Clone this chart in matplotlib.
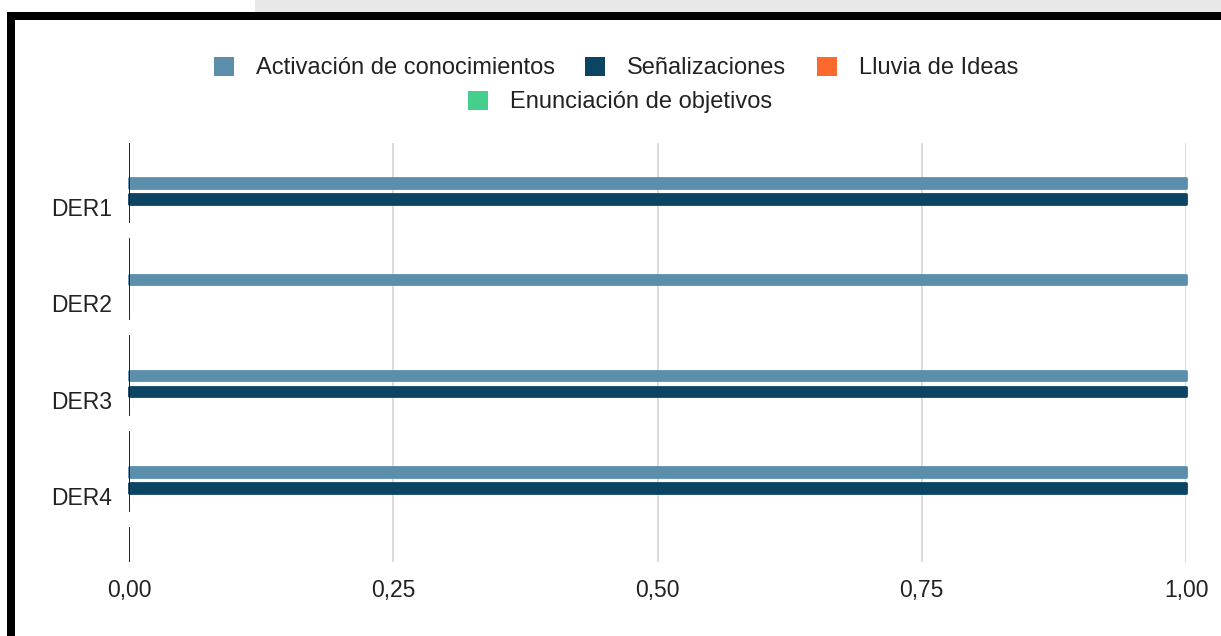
import matplotlib
matplotlib.use("Agg")
import matplotlib.pyplot as plt
from matplotlib.patches import Rectangle, Patch

plt.rcParams['font.family'] = ['Liberation Sans', 'DejaVu Sans']

categories = ["DER1", "DER2", "DER3", "DER4"]
series_names = ["Activación de conocimientos", "Señalizaciones", "Lluvia de Ideas", "Enunciación de objetivos"]
series_values = {
    "Activación de conocimientos": [1.0, 1.0, 1.0, 1.0],
    "Señalizaciones": [1.0, 0.0, 1.0, 1.0],
    "Lluvia de Ideas": [0.0, 0.0, 0.0, 0.0],
    "Enunciación de objetivos": [0.0, 0.0, 0.0, 0.0],
}
series_colors = ["#5a8eab", "#0c4563", "#fb6a2c", "#44cf8c"]
x_ticks = [0.0, 0.25, 0.5, 0.75, 1.0]
x_tick_labels = ["0,00", "0,25", "0,50", "0,75", "1,00"]

W, H = 1221, 636
fig = plt.figure(figsize=(W / 100, H / 100), dpi=100)
fig.patch.set_facecolor("white")

# top grey strip and black frame (screenshot border)
fig.patches.append(Rectangle((255 / W, 1 - 12 / H), 1, 12 / H, transform=fig.transFigure,
                             facecolor="#e8e8e8", edgecolor="none", zorder=0))
fig.patches.append(Rectangle((7 / W, 1 - 20 / H), 1, 8 / H, transform=fig.transFigure,
                             facecolor="black", edgecolor="none", zorder=5))
fig.patches.append(Rectangle((7 / W, 0), 8 / W, 1 - 12 / H, transform=fig.transFigure,
                             facecolor="black", edgecolor="none", zorder=5))

left, right = 129 / W, 1186 / W
bottom, top = 1 - 562 / H, 1 - 143 / H
ax = fig.add_axes([left, bottom, right - left, top - bottom])
ax.set_facecolor("none")

n_series = len(series_names)
step = 0.166
bar_h = 0.10
for s, name in enumerate(series_names):
    off = (s - (n_series - 1) / 2) * step
    ys = [i + off for i in range(len(categories))]
    vals = series_values[name]
    bars = ax.barh(ys, vals, height=bar_h, color=series_colors[s], zorder=3, clip_on=False)
    for b, v in zip(bars, vals):
        if v > 0:
            b.set_edgecolor(series_colors[s])
            b.set_linewidth(2)
            b.set_joinstyle("round")

# gridlines
for t in x_ticks[1:]:
    ax.axvline(t, color="#d6d6d6", lw=1.2, zorder=1)

# segmented baseline at zero
for i in range(len(categories) + 1):
    ax.plot([0, 0], [i - 0.665, i + 0.16], color="#111111", lw=1.3, zorder=4, clip_on=True)

ax.set_xlim(0, 1)
ax.set_ylim(3.686, -0.665)
ax.set_yticks(range(len(categories)))
ax.set_yticklabels(categories)
ax.set_xticks(x_ticks)
ax.set_xticklabels(x_tick_labels)
ax.tick_params(axis="both", length=0, labelsize=16.5, colors="#222222")
ax.tick_params(axis="y", pad=12)
ax.tick_params(axis="x", pad=12)
for sp in ax.spines.values():
    sp.set_visible(False)

handles = [Patch(facecolor=c, edgecolor="none") for c in series_colors]
leg1 = fig.legend(handles[:3], series_names[:3], loc="center", bbox_to_anchor=(616 / W, 1 - 68 / H),
                  ncol=3, frameon=False, fontsize=17, handlelength=0.85, handleheight=0.85,
                  handletextpad=0.93, columnspacing=1.3, labelcolor="#222222")
leg2 = fig.legend(handles[3:], series_names[3:], loc="center", bbox_to_anchor=(620 / W, 1 - 102 / H),
                  ncol=1, frameon=False, fontsize=17, handlelength=0.85, handleheight=0.85,
                  handletextpad=0.93, labelcolor="#222222")

fig.savefig("out.png", dpi=100)
